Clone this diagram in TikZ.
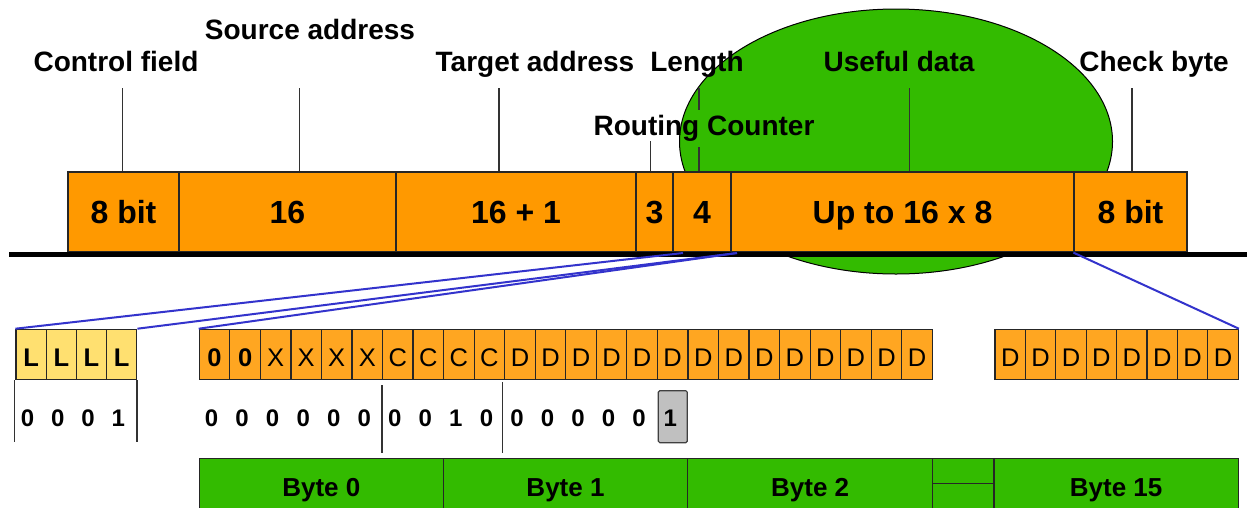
\documentclass[tikz,border=0pt]{standalone}
\usepackage{fontspec}
\setmainfont{Liberation Sans}
\definecolor{orTop}{RGB}{255,153,0}
\definecolor{orCell}{RGB}{255,166,33}
\definecolor{yelCell}{RGB}{255,224,112}
\definecolor{grnFill}{RGB}{51,187,0}
\definecolor{bluLine}{RGB}{51,51,204}
\definecolor{gryBox}{RGB}{192,192,192}
\definecolor{lead}{RGB}{50,50,50}
\begin{document}
\begin{tikzpicture}[x=1pt,y=-1pt,
  topbox/.style={draw=black!85, line width=1.2pt, fill=orTop, minimum height=80pt, inner sep=0pt, text height=22.6pt, text depth=0pt, font=\fontsize{32}{36}\selectfont\bfseries},
  lbl/.style={anchor=base, inner sep=0pt, font=\fontsize{28}{32}\selectfont\bfseries},
  leader/.style={draw=lead, line width=1.2pt},
  cellbase/.style={draw=black!85, line width=1.2pt, minimum height=50pt, inner sep=0pt, text height=24.8pt, text depth=0pt, font=\fontsize{25.5}{28}\selectfont},
  lcell/.style={cellbase, fill=yelCell, minimum width=30.2pt, font=\fontsize{25.5}{28}\selectfont\bfseries},
  ocell/.style={cellbase, fill=orCell, minimum width=30.54pt},
  dcell/.style={cellbase, fill=orCell, minimum width=30.41pt},
  bit/.style={anchor=base, inner sep=0pt, font=\fontsize{24}{28}\selectfont\bfseries},
  sep/.style={draw=lead, line width=1.2pt},
  blue/.style={draw=bluLine, line width=2pt},
  bytebox/.style={draw=black!85, line width=1.2pt, fill=grnFill, minimum height=57.4pt, inner sep=0pt, text height=18.4pt, text depth=0pt, font=\fontsize{26}{30}\selectfont\bfseries}
]
\useasboundingbox (0,0) rectangle (1257,507);
\clip (0,0) rectangle (1257,507);
\fill[white] (0,0) rectangle (1257,507);

% green ellipse
\draw[fill=grnFill, draw=black, line width=1pt] (896,141.5) ellipse [x radius=216.5, y radius=132.5];

% top row boxes
\node[topbox, minimum width=111pt] (cf) at (123.5,212) {8 bit};
\node[topbox, minimum width=217pt] (sa) at (287.5,212) {16};
\node[topbox, minimum width=240pt] (ta) at (516,212) {16 + 1};
\node[topbox, minimum width=37pt] (rc) at (654.5,212) {3};
\node[topbox, minimum width=58pt] (ln) at (702,212) {4};
\node[topbox, minimum width=343pt] (ud) at (902.5,212) {Up to 16 x 8};
\node[topbox, minimum width=113pt] (cb) at (1130.5,212) {8 bit};

% labels
\node[lbl] (tcf) at (116,71) {Control field};
\node[lbl] (tsa) at (310,39.5) {Source address};
\node[lbl] (tta) at (535,71) {Target address};
\node[lbl] (tln) at (697,71) {Length};
\node[lbl] (trc) at (704,135) {Routing Counter};
\node[lbl] (tud) at (899,71) {Useful data};
\node[lbl] (tcb) at (1154,71) {Check byte};

% leader lines
\coordinate (k1) at (122.3,88);
\coordinate (k2) at (299.3,88);
\coordinate (k3) at (499,88);
\coordinate (k4) at (650.5,141);
\coordinate (k5) at (699,88);
\coordinate (k5b) at (699,110);
\coordinate (k5c) at (699,147);
\coordinate (k6) at (909.7,88);
\coordinate (k7) at (1132,88);
\draw[leader] (k1) -- (k1 |- cf.north);
\draw[leader] (k2) -- (k2 |- sa.north);
\draw[leader] (k3) -- (k3 |- ta.north);
\draw[leader] (k4) -- (k4 |- rc.north);
\draw[leader] (k5) -- (k5b);
\draw[leader] (k5c) -- (k5c |- ln.north);
\draw[leader] (k6) -- (k6 |- ud.north);
\draw[leader] (k7) -- (k7 |- cb.north);

% baseline
\coordinate (bl0) at (9.3,254.5);
\coordinate (bl1) at (1247.3,254.5);
\draw[line width=5pt, black] (bl0) -- (bl1);

% lower cells
\foreach \i in {0,...,3}
  \node[lcell] (l\i) at ({16+30.2*(\i+0.5)},354.3) {L};
\foreach \t [count=\i from 0] in {0,0,X,X,X,X,C,C,C,C,D,D,D,D,D,D,D,D,D,D,D,D,D,D}
  \node[ocell] (o\i) at ({199.3+30.54*(\i+0.5)},354.3) {\ifnum\i<2 \bfseries\fi\t};
\foreach \i in {0,...,7}
  \node[dcell] (d\i) at ({995+30.41*(\i+0.5)},354.3) {D};

% blue mapping lines
\coordinate (m1) at (683,253);
\coordinate (m2) at (737,253);
\draw[blue] (l0.north west) -- (m1);
\draw[blue] (l3.north east) -- (m2);
\draw[blue] (o0.north west) -- (m2);
\draw[blue] (d7.north east) -- (cb.south west);

% bit values
\foreach \t [count=\i from 0] in {0,0,0,1}
  \node[bit] (lb\i) at ({16+30.2*(\i+0.5)-3.5},426.7) {\t};
\foreach \t [count=\i from 0] in {0,0,0,0,0,0,0,0,1,0,0,0,0,0,0}
  \node[bit] (ob\i) at ({199.3+30.54*(\i+0.5)-3},426.7) {\t};
\node[draw=black!75, line width=1.2pt, fill=gryBox, rounded corners=1.5pt, minimum width=29pt, minimum height=52pt, inner sep=0pt, text height=20pt, text depth=0pt, font=\fontsize{24}{28}\selectfont\bfseries] (gb) at (672.8,416.7) {\hspace{-5pt}1};

% separators
\coordinate (s1) at (14.5,380);
\coordinate (s2) at (137,380);
\coordinate (s3) at (382,385);
\coordinate (s4) at (502.5,382);
\draw[sep] (s1) -- ++(0,62);
\draw[sep] (s2) -- ++(0,62);
\draw[sep] (s3) -- ++(0,68);
\draw[sep] (s4) -- ++(0,71);

% byte boxes
\node[bytebox, minimum width=244pt] (b0) at (321.3,487) {Byte 0};
\node[bytebox, minimum width=244.4pt] (b1) at (565.5,487) {Byte 1};
\node[bytebox, minimum width=245pt] (b2) at (810.2,487) {Byte 2};
\node[bytebox, minimum width=61.3pt] (bg) at (963.35,487) {};
\node[bytebox, minimum width=244.3pt] (b15) at (1116.15,487) {Byte 15};
\coordinate (gl) at (932.7,483.3);
\draw[line width=1.2pt, black!85] (gl) -- (gl -| bg.east);
\end{tikzpicture}
\end{document}
